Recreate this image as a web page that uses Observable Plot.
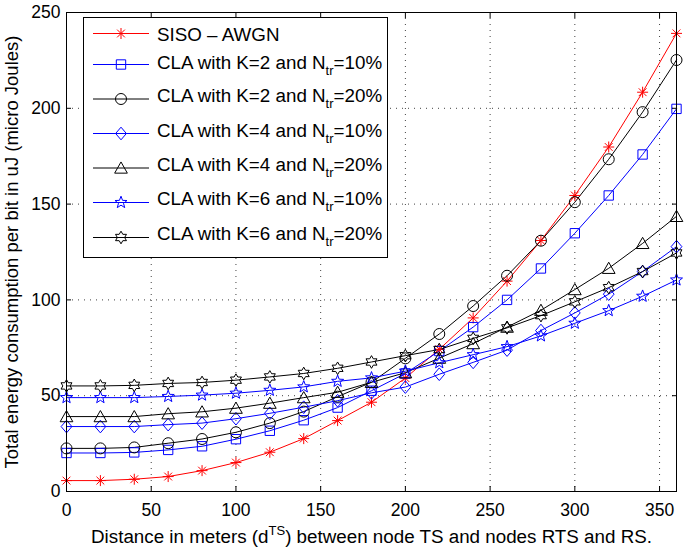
<!DOCTYPE html>
<html>
<head>
<meta charset="utf-8">
<script src="https://cdn.jsdelivr.net/npm/d3@7"></script>
<script src="https://cdn.jsdelivr.net/npm/@observablehq/plot@0.6"></script>
<style>
  html, body { margin: 0; padding: 0; background: #fff; }
  #chart { position: relative; width: 685px; height: 548px; font-family: "Liberation Sans", Arial, Helvetica, sans-serif; }
  #chart svg.legend { position: absolute; left: 0; top: 0; }
</style>
</head>
<body>
<div id="chart"></div>
<script>
// ---------------- data ----------------
const distances = [0, 20, 40, 60, 80, 100, 120, 140, 160, 180, 200, 220, 240, 260, 280, 300, 320, 340, 360];
const sisoAwgn = [5.7, 5.7, 6.4, 7.8, 10.9, 15.1, 20.5, 27.6, 37.0, 46.6, 59.2, 74.2, 90.6, 109.8, 131.0, 154.5, 179.8, 208.4, 239.1];
const claK2N10 = [20.1, 20.1, 20.4, 21.7, 23.6, 27.3, 31.7, 37.2, 43.8, 52.6, 61.6, 73.3, 85.8, 100.0, 116.4, 134.8, 154.5, 175.9, 199.7];
const claK2N20 = [22.5, 22.5, 23.0, 25.2, 27.4, 30.9, 35.7, 41.7, 49.5, 57.0, 69.5, 82.2, 96.8, 112.6, 130.9, 151.0, 173.4, 198.0, 225.2];
const claK4N10 = [33.9, 33.9, 33.9, 34.9, 35.7, 38.0, 40.8, 44.0, 47.4, 51.5, 54.5, 61.2, 67.4, 73.8, 84.0, 93.2, 103.0, 114.8, 127.8];
const claK4N20 = [39.1, 39.1, 39.1, 40.6, 41.6, 43.5, 46.1, 49.0, 51.8, 57.0, 62.0, 69.6, 77.2, 85.8, 94.6, 105.4, 116.5, 129.5, 143.6];
const claK6N10 = [49.0, 49.0, 49.0, 49.6, 50.3, 51.3, 52.8, 54.6, 57.5, 59.3, 62.8, 67.2, 71.4, 75.6, 81.2, 87.8, 94.4, 101.9, 110.4];
const claK6N20 = [55.1, 55.1, 55.4, 56.4, 56.9, 58.1, 59.8, 61.6, 64.3, 67.6, 70.9, 74.1, 79.9, 85.4, 91.8, 99.0, 106.4, 114.8, 124.5];

const seriesNames = ["SISO – AWGN", "CLA with K=2 and N_tr=10%", "CLA with K=2 and N_tr=20%", "CLA with K=4 and N_tr=10%", "CLA with K=4 and N_tr=20%", "CLA with K=6 and N_tr=10%", "CLA with K=6 and N_tr=20%"];
const seriesValues = [sisoAwgn, claK2N10, claK2N20, claK4N10, claK4N20, claK6N10, claK6N20];
const seriesColors = ["#ff0000", "#0000ff", "#000000", "#0000ff", "#000000", "#0000ff", "#000000"];

const xTicks = [0, 50, 100, 150, 200, 250, 300, 350];
const yTicks = [0, 50, 100, 150, 200, 250];
const xLabelParts = ["Distance in meters (d", "TS", ") between node TS and nodes RTS and RS."];
const yLabel = "Total energy consumption per bit in uJ (micro Joules)";

// ---------------- marker symbols (MATLAB-like) ----------------
function rad(size) { return Math.sqrt(size / Math.PI); }
const symAsterisk = { draw(c, size) { const r = rad(size);
  for (let k = 0; k < 4; k++) { const a = k * Math.PI / 4; c.moveTo(r * Math.cos(a), r * Math.sin(a)); c.lineTo(-r * Math.cos(a), -r * Math.sin(a)); } } };
const symSquare = { draw(c, size) { const h = rad(size) * 0.85; c.moveTo(-h, -h); c.lineTo(h, -h); c.lineTo(h, h); c.lineTo(-h, h); c.closePath(); } };
const symCircle = { draw(c, size) { const r = rad(size); c.moveTo(r, 0); c.arc(0, 0, r, 0, 2 * Math.PI); c.closePath(); } };
const symDiamond = { draw(c, size) { const r = rad(size) * 1.15; c.moveTo(0, -r); c.lineTo(r * 0.85, 0); c.lineTo(0, r); c.lineTo(-r * 0.85, 0); c.closePath(); } };
const symTriangle = { draw(c, size) { const r = rad(size) * 1.1; c.moveTo(0, -r); c.lineTo(r * 1.05, r * 0.85); c.lineTo(-r * 1.05, r * 0.85); c.closePath(); } };
function starSym(n, inner) { return { draw(c, size) { const R = rad(size) * 1.15, ri = R * inner;
  for (let k = 0; k < 2 * n; k++) { const a = -Math.PI / 2 + k * Math.PI / n, rr = k % 2 ? ri : R;
    if (k === 0) c.moveTo(rr * Math.cos(a), rr * Math.sin(a)); else c.lineTo(rr * Math.cos(a), rr * Math.sin(a)); }
  c.closePath(); } }; }
const symPentagram = starSym(5, 0.42);
const symHexagram = starSym(6, 0.577);
const seriesSymbols = [symAsterisk, symSquare, symCircle, symDiamond, symTriangle, symPentagram, symHexagram];
const seriesR = [5.5, 5.5, 5.5, 5.5, 5.5, 5.5, 5.5];

// ---------------- plot ----------------
const lineMarks = [];
const dotMarks = [];
seriesValues.forEach((vals, i) => {
  const rows = vals.map((v, j) => ({ x: distances[j], y: v }));
  lineMarks.push(Plot.line(rows, { x: "x", y: "y", stroke: seriesColors[i], strokeWidth: 1 }));
  dotMarks.push(Plot.dot(rows, { x: "x", y: "y", stroke: seriesColors[i], fill: "none", strokeWidth: 1, symbol: seriesSymbols[i], r: seriesR[i] }));
});

const W = 685, H = 548, ML = 66, MR = 9, MT = 12, MB = 57;
const gridStyle = { stroke: "#000", strokeOpacity: 0.75, strokeDasharray: "1,5", strokeWidth: 1 };

const svg = Plot.plot({
  width: W, height: H,
  marginLeft: ML, marginRight: MR, marginTop: MT, marginBottom: MB,
  style: { fontFamily: "'Liberation Sans', Arial, Helvetica, sans-serif", fontSize: "17.5px", color: "#000", background: "#fff", overflow: "visible" },
  x: { domain: [0, 360] },
  y: { domain: [0, 250] },
  marks: [
    Plot.gridX(xTicks, gridStyle),
    Plot.gridY(yTicks, gridStyle),
    // inward ticks on all four sides
    Plot.axisX(xTicks, { anchor: "bottom", tickSize: 5, dy: -5, fill: "none", label: null }),
    Plot.axisX(xTicks, { anchor: "top", tickSize: 5, dy: 5, fill: "none", label: null }),
    Plot.axisY(yTicks, { anchor: "left", tickSize: 5, dx: 5, fill: "none", label: null }),
    Plot.axisY(yTicks, { anchor: "right", tickSize: 5, dx: -5, fill: "none", label: null }),
    // tick labels + axis labels
    Plot.axisX(xTicks, { anchor: "bottom", tickSize: 0, tickPadding: 12, fontSize: 17.5, label: xLabelParts.join(""), labelAnchor: "center", labelOffset: 51 }),
    Plot.axisY(yTicks, { anchor: "left", tickSize: 0, tickPadding: 6, fontSize: 17.5, label: yLabel, labelAnchor: "center", labelOffset: 62 }),
    ...lineMarks,
    ...dotMarks,
    Plot.frame({ stroke: "#000", strokeWidth: 1 })
  ]
});

const chart = document.getElementById("chart");
chart.appendChild(svg);

// x label with superscript
const xl = d3.select(svg).select('g[aria-label="x-axis label"] text');
if (!xl.empty()) {
  xl.text(null).attr("font-size", "18.8px");
  xl.append("tspan").text(xLabelParts[0]);
  xl.append("tspan").attr("dy", "-8px").attr("font-size", "13px").text(xLabelParts[1]);
  xl.append("tspan").attr("dy", "8px").text(xLabelParts[2]);
}
// y label without arrow
const yl = d3.select(svg).select('g[aria-label="y-axis label"] text');
if (!yl.empty()) { yl.text(yLabel).attr("font-size", "18.5px"); }

// ---------------- legend ----------------
const lg = d3.select(chart).append("svg").attr("class", "legend")
  .attr("width", W).attr("height", H)
  .style("font-family", "'Liberation Sans', Arial, Helvetica, sans-serif");
lg.append("rect").attr("x", 83.5).attr("y", 17.5).attr("width", 304).attr("height", 240)
  .attr("fill", "#fff").attr("stroke", "#000").attr("stroke-width", 1);
const rowLine = [33.5, 64.5, 99, 133.5, 168, 202.5, 237.5];
const rowBase = [40.5, 69, 102, 136.5, 170.5, 205, 240];
seriesNames.forEach((name, i) => {
  const g = lg.append("g");
  g.append("line").attr("x1", 93).attr("x2", 149).attr("y1", rowLine[i]).attr("y2", rowLine[i])
    .attr("stroke", seriesColors[i]).attr("stroke-width", 1);
  g.append("path").attr("transform", `translate(121,${rowLine[i]})`)
    .attr("d", d3.symbol(seriesSymbols[i], Math.PI * seriesR[i] * seriesR[i])())
    .attr("fill", "none").attr("stroke", seriesColors[i]).attr("stroke-width", 1);
  const t = g.append("text").attr("x", 157).attr("y", rowBase[i]).attr("font-size", "18.8px").attr("fill", "#000");
  const m = name.split("_tr");
  if (m.length === 1) { t.text(name); }
  else {
    t.append("tspan").text(m[0]);
    t.append("tspan").attr("dy", "6px").attr("font-size", "13px").text("tr");
    t.append("tspan").attr("dy", "-6px").text(m[1]);
  }
});
</script>
</body>
</html>
